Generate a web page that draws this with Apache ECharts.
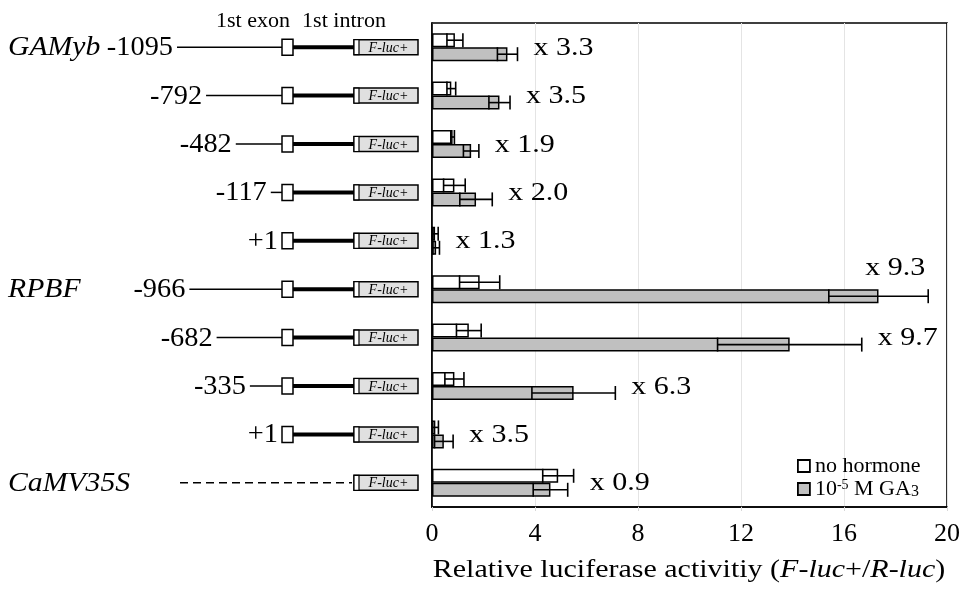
<!DOCTYPE html>
<html><head><meta charset="utf-8">
<script src="https://cdn.jsdelivr.net/npm/echarts@6/dist/echarts.min.js"></script>
<style>html,body{margin:0;padding:0;background:#fff}#c{width:965px;height:590px}</style>
</head><body><div id="c"></div>
<script>
const constructs = ['GAMyb -1095','GAMyb -792','GAMyb -482','GAMyb -117','GAMyb +1','RPBF -966','RPBF -682','RPBF -335','RPBF +1','CaMV35S'];
const geneNames = ['GAMyb','','','','','RPBF','','','','CaMV35S'];
const positionLabels = ['-1095','-792','-482','-117','+1','-966','-682','-335','+1',''];
const promoterStart = [-1095,-792,-482,-117,1,-966,-682,-335,1,null];
const noHormone   = [0.89,0.75,0.80,0.87,0.12,1.85,1.43,0.87,0.13,4.90];
const noHormoneSE = [0.31,0.17,0.07,0.42,0.12,0.78,0.48,0.37,0.12,0.60];
const ga3         = [2.93,2.62,1.52,1.71,0.16,17.34,13.89,5.50,0.46,4.60];
const ga3SE       = [0.39,0.41,0.30,0.63,0.13,1.93,2.80,1.62,0.36,0.67];
const foldLabels  = ['x 3.3','x 3.5','x 1.9','x 2.0','x 1.3','x 9.3','x 9.7','x 6.3','x 3.5','x 0.9'];
const xTicks = [0,4,8,12,16,20];

const SERIF = '"Liberation Serif", "DejaVu Serif", serif';
const BAR_W = 14;

const chart = echarts.init(document.getElementById('c'), null, {renderer: 'canvas'});

const errData = [];
noHormone.forEach((v, i) => errData.push([i, v, noHormoneSE[i], -1]));
ga3.forEach((v, i) => errData.push([i, v, ga3SE[i], 1]));

function renderErr(params, api) {
  const cat = api.value(0), mean = api.value(1), se = api.value(2), side = api.value(3);
  const yc = api.coord([mean, cat])[1] + side * BAR_W / 2;
  const lo = api.coord([Math.max(0, mean - se), cat])[0];
  const hi = api.coord([mean + se, cat])[0];
  const h = BAR_W / 2;
  const st = {stroke: '#000', lineWidth: 1.6};
  return {type: 'group', children: [
    {type: 'line', shape: {x1: lo, y1: yc, x2: hi, y2: yc}, style: st},
    {type: 'line', shape: {x1: lo, y1: yc - h, x2: lo, y2: yc + h}, style: st},
    {type: 'line', shape: {x1: hi, y1: yc - h, x2: hi, y2: yc + h}, style: st}
  ]};
}

function renderFold(params, api) {
  const i = api.value(0);
  const top = Math.max(noHormone[i] + noHormoneSE[i], ga3[i] + ga3SE[i]);
  const p = api.coord([top, i]);
  const rightEdge = api.coord([xTicks[xTicks.length - 1], i])[0];
  let x = p[0] + 16, y = p[1] + 1, align = 'left';
  if (x + 62 > rightEdge) { x = p[0] - 3; y = p[1] - 21; align = 'right'; }
  return {type: 'text', x: x, y: y, scaleX: 1.2, style: {text: foldLabels[i], x: 0, y: 0, align: align, verticalAlign: 'middle',
    fontSize: 25, fontFamily: SERIF, fill: '#000'}};
}

function renderDiagram(params, api) {
  const i = api.value(0);
  const origin = api.coord([0, i]);
  const x0 = origin[0], y = origin[1];
  const children = [];
  const start = promoterStart[i];
  const flucX = x0 + 72, flucW = 64, flucH = 15;
  if (start !== null) {
    const xs = api.coord([Math.min(start, 0), i])[0];
    if (start < 0) children.push({type: 'line', shape: {x1: xs, y1: y, x2: x0, y2: y}, style: {stroke: '#000', lineWidth: 1.5}});
    children.push({type: 'line', shape: {x1: x0 + 11, y1: y, x2: flucX, y2: y}, style: {stroke: '#000', lineWidth: 4}});
    children.push({type: 'rect', shape: {x: x0, y: y - 8, width: 11, height: 16}, style: {fill: '#fff', stroke: '#000', lineWidth: 1.5}});
    children.push({type: 'text', x: xs - 4, y: y + 1, scaleX: 1.05, style: {text: positionLabels[i], x: 0, y: 0, align: 'right', verticalAlign: 'middle',
      fontSize: 27, fontFamily: SERIF, fill: '#000'}});
  } else {
    const xs = api.coord([promoterStart[0], i])[0] + 3;
    children.push({type: 'line', shape: {x1: xs, y1: y, x2: flucX - 2, y2: y}, style: {stroke: '#000', lineWidth: 1.5, lineDash: [8, 5]}});
  }
  children.push({type: 'rect', shape: {x: flucX, y: y - flucH / 2, width: flucW, height: flucH}, style: {fill: '#e0e0e0', stroke: '#000', lineWidth: 1.5}});
  children.push({type: 'rect', shape: {x: flucX, y: y - flucH / 2, width: 5, height: flucH}, style: {fill: '#fff', stroke: '#000', lineWidth: 1.2}});
  children.push({type: 'text', style: {text: 'F-luc+', x: flucX + 5 + (flucW - 5) / 2, y: y + 1, align: 'center', verticalAlign: 'middle',
    fontSize: 14, fontStyle: 'italic', fontFamily: SERIF, fill: '#000'}});
  if (geneNames[i]) {
    children.push({type: 'text', x: 8, y: y + 1, scaleX: 1.1, style: {text: geneNames[i], x: 0, y: 0, align: 'left', verticalAlign: 'middle',
      fontSize: 27, fontStyle: 'italic', fontFamily: SERIF, fill: '#000'}});
  }
  return {type: 'group', children: children};
}

const option = {
  animation: false,
  backgroundColor: '#fff',
  graphic: [
    {type: 'text', x: 253, y: 21, scaleX: 1.05, style: {text: '1st exon', x: 0, y: 0, align: 'center', verticalAlign: 'middle', fontSize: 21, fontFamily: SERIF, fill: '#000'}},
    {type: 'text', x: 344, y: 21, scaleX: 1.05, style: {text: '1st intron', x: 0, y: 0, align: 'center', verticalAlign: 'middle', fontSize: 21, fontFamily: SERIF, fill: '#000'}},
    {type: 'text', x: 689, y: 570, scaleX: 1.2, style: {
      text: '{n|Relative luciferase activitiy (}{i|F-luc}{n|+/}{i|R-luc}{n|)}', x: 0, y: 0, align: 'center', verticalAlign: 'middle',
      rich: {
        n: {fontSize: 25, fontFamily: SERIF, fill: '#000'},
        i: {fontSize: 25, fontFamily: SERIF, fontStyle: 'italic', fill: '#000'}
      }}}
  ],
  grid: [
    {left: 432, right: 18, top: 23, bottom: 83, show: true, borderColor: '#000', borderWidth: 1.6, backgroundColor: '#fff'},
    {left: 177, right: 683, top: 23, bottom: 83}
  ],
  legend: {
    orient: 'vertical', left: 792, top: 450, itemWidth: 12, itemHeight: 12, itemGap: 1, icon: 'rect',
    data: ['no hormone', 'GA3'],
    itemStyle: {borderColor: '#000', borderWidth: 1.8},
    formatter: n => n === 'GA3' ? '{t|10}{sup|-5}{t| M GA}{sub|3}' : '{t|no hormone}',
    textStyle: {
      color: '#000',
      rich: {
        t: {fontSize: 22, fontFamily: SERIF, color: '#000', lineHeight: 22},
        sup: {fontSize: 14, fontFamily: SERIF, color: '#000', verticalAlign: 'top', lineHeight: 14},
        sub: {fontSize: 16, fontFamily: SERIF, color: '#000', verticalAlign: 'bottom', lineHeight: 18}
      }
    }
  },
  xAxis: [
    {type: 'value', gridIndex: 0, min: 0, max: 20, interval: 4,
      axisLine: {show: true, lineStyle: {color: '#000', width: 1.6}},
      axisTick: {show: true, length: 4, lineStyle: {color: '#d8d8d8'}},
      axisLabel: {fontSize: 26, fontFamily: SERIF, color: '#000', margin: 14},
      splitLine: {show: true, lineStyle: {color: '#e4e4e4', width: 1}}
    },
    {type: 'value', gridIndex: 1, min: -1095, max: 0, show: false}
  ],
  yAxis: [
    {type: 'category', gridIndex: 0, data: constructs, inverse: true,
      axisLine: {show: true, lineStyle: {color: '#000', width: 1.6}},
      axisTick: {show: false}, axisLabel: {show: false}, splitLine: {show: false}},
    {type: 'category', gridIndex: 1, data: constructs, inverse: true, show: false}
  ],
  series: [
    {name: 'no hormone', type: 'bar', data: noHormone, barWidth: BAR_W, barGap: '0%',
      itemStyle: {color: '#ffffff', borderColor: '#000', borderWidth: 1.5}},
    {name: 'GA3', type: 'bar', data: ga3, barWidth: BAR_W, barGap: '0%',
      itemStyle: {color: '#c0c0c0', borderColor: '#000', borderWidth: 1.5}},
    {type: 'custom', name: 'err', xAxisIndex: 0, yAxisIndex: 0, data: errData, renderItem: renderErr,
      encode: {x: 1, y: 0}, z: 5, silent: true},
    {type: 'custom', name: 'fold', xAxisIndex: 0, yAxisIndex: 0, data: constructs.map((c, i) => [i]), renderItem: renderFold,
      encode: {y: 0}, z: 6, silent: true},
    {type: 'custom', name: 'diagram', xAxisIndex: 1, yAxisIndex: 1, data: constructs.map((c, i) => [i]), renderItem: renderDiagram,
      encode: {y: 0}, z: 6, silent: true, clip: false}
  ]
};
chart.setOption(option);
</script></body></html>
